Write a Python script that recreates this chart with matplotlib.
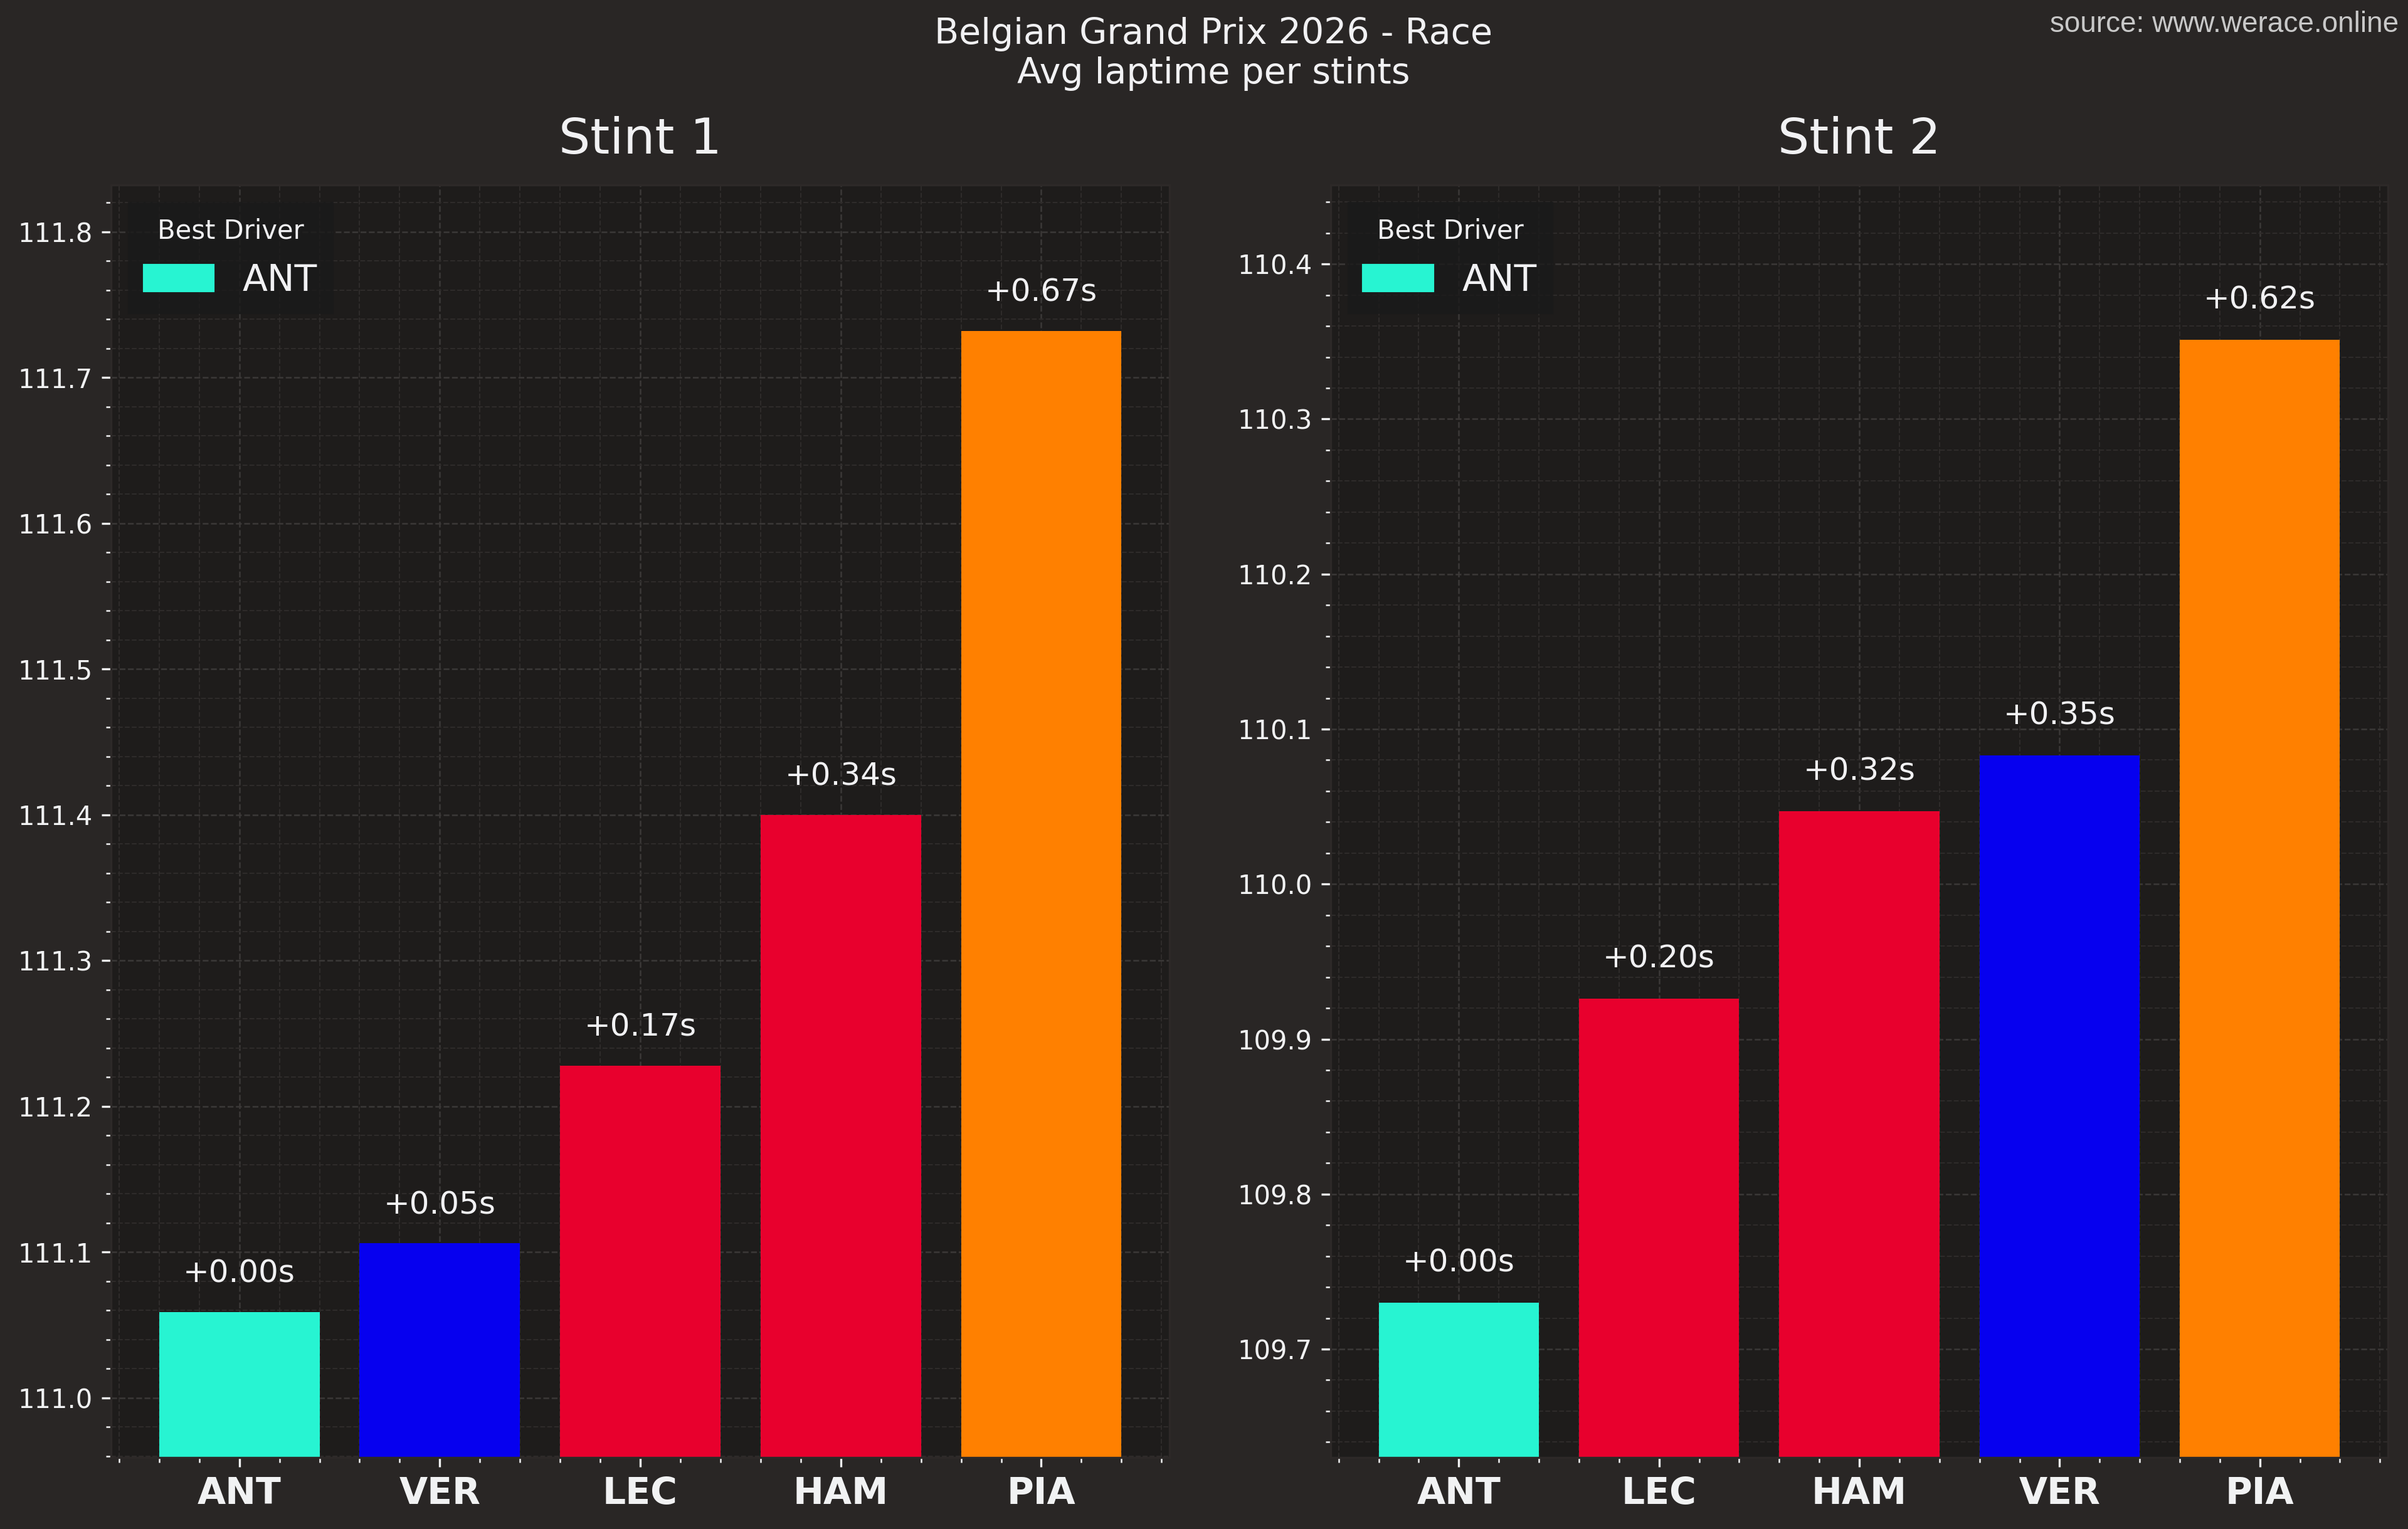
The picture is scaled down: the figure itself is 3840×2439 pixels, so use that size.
import matplotlib
matplotlib.use("Agg")
import matplotlib.pyplot as plt
from matplotlib.patches import Patch
from matplotlib.ticker import MultipleLocator, AutoMinorLocator

# average laptime per stint (seconds)
stint1_drivers = ["ANT", "VER", "LEC", "HAM", "PIA"]
stint1_times = [111.059, 111.106, 111.228, 111.400, 111.732]
stint1_colors = ["#27F4D2", "#0600EF", "#E8002D", "#E8002D", "#FF8000"]

stint2_drivers = ["ANT", "LEC", "HAM", "VER", "PIA"]
stint2_times = [109.730, 109.926, 110.047, 110.083, 110.351]
stint2_colors = ["#27F4D2", "#E8002D", "#E8002D", "#0600EF", "#FF8000"]

stint_titles = ["Stint 1", "Stint 2"]

# dark f1 style
plt.rcParams['figure.facecolor'] = '#292625'
plt.rcParams['axes.edgecolor'] = '#2d2928'
plt.rcParams['axes.facecolor'] = '#1e1c1b'
plt.rcParams['xtick.color'] = '#f1f2f3'
plt.rcParams['ytick.color'] = '#f1f2f3'
plt.rcParams['text.color'] = '#F1F1F3'
plt.rcParams['axes.labelcolor'] = '#F1F2F3'
plt.rcParams['axes.titlesize'] = 19
plt.rcParams['axes.titlepad'] = 12
plt.rcParams['legend.fancybox'] = False
plt.rcParams['legend.facecolor'] = (0.1, 0.1, 0.1, 0.7)
plt.rcParams['legend.edgecolor'] = (0.1, 0.1, 0.1, 0.9)
plt.rcParams['axes.axisbelow'] = True

fig = plt.figure(figsize=(12.8, 8.13), dpi=300)
ax1 = fig.add_axes([0.0461, 0.0467, 0.4396, 0.8323])
ax2 = fig.add_axes([0.5526, 0.0467, 0.4391, 0.8323])

data = [(stint1_drivers, stint1_times, stint1_colors),
        (stint2_drivers, stint2_times, stint2_colors)]

for ax, (drivers, times, colors), title in zip([ax1, ax2], data, stint_titles):
    x = list(range(len(drivers)))
    ax.bar(x, times, color=colors, width=0.8)
    best = min(times)
    for xi, t in zip(x, times):
        ax.text(xi, t + 0.016, "+{:.2f}s".format(t - best),
                ha='center', va='bottom', fontsize=12, color='#F1F1F3')
    ax.set_ylim(min(times) - 0.1, max(times) + 0.1)
    ax.set_xticks(x)
    ax.set_xticklabels(drivers, fontsize=14, fontweight='bold')
    ax.yaxis.set_major_locator(MultipleLocator(0.1))
    ax.yaxis.set_minor_locator(AutoMinorLocator(5))
    ax.xaxis.set_minor_locator(AutoMinorLocator(5))
    ax.grid(which='major', linestyle='--', linewidth=0.6, color='#3b3837')
    ax.grid(which='minor', linestyle='--', linewidth=0.5, color='#2e2b2a')
    ax.set_title(title)
    best_idx = times.index(best)
    leg = ax.legend(handles=[Patch(color=colors[best_idx])],
                    labels=[drivers[best_idx]], title="Best Driver",
                    loc='upper left', fontsize=14, title_fontsize=10,
                    handlelength=1.9)

fig.suptitle("Belgian Grand Prix 2026 - Race\nAvg laptime per stints",
             fontsize=13.7, x=0.504, y=0.989, color='#F1F1F3')
fig.text(0.996, 0.993, "source: www.werace.online", ha='right', va='top',
         fontsize=11, color='#c8c8c8', family='Liberation Sans')

fig.savefig("out.png", dpi=300)
